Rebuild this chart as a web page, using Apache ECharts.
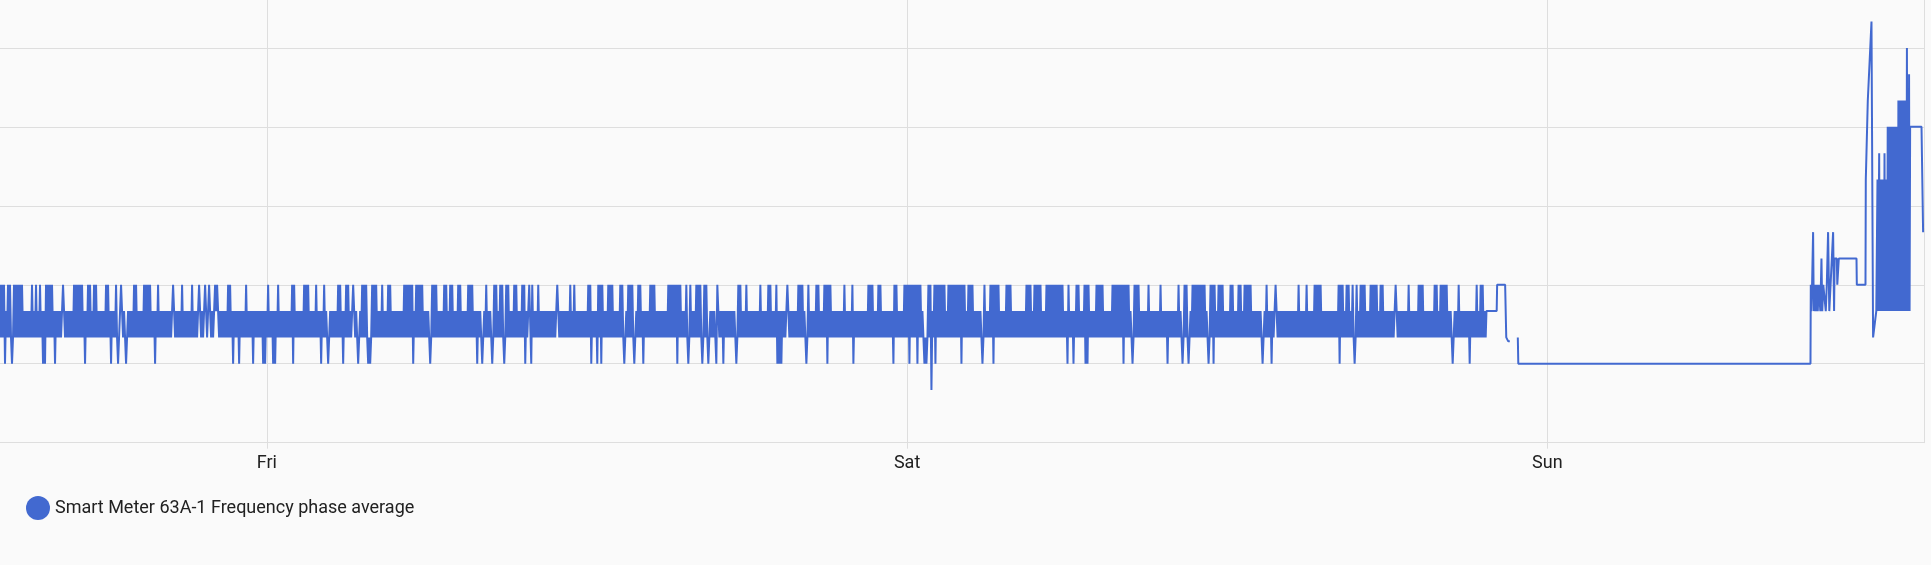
<!DOCTYPE html>
<html>
<head>
<meta charset="utf-8">
<script src="https://cdn.jsdelivr.net/npm/echarts@6/dist/echarts.min.js"></script>
<style>
  html, body { margin: 0; padding: 0; background: #fafafa; }
  #chart { width: 1931px; height: 565px; }
</style>
</head>
<body>
<div id="chart"></div>
<script>
// ---- data ----
const seriesName = 'Smart Meter 63A-1 Frequency phase average';
const dayNames = ['Sun', 'Mon', 'Tue', 'Wed', 'Thu', 'Fri', 'Sat'];
const startTime = new Date(2025, 0, 2, 14, 0, 0).getTime(); // Thu 14:00
const endMinute = 4327;                                      // ~Sun 14:07

// level codes used in the dense band (Hz)
const bandLevels = [49.98, 49.97, 49.96, 49.95, 49.94];
const bandStepMinutes = 2.25;
// one code per sample, Thu 14:00 -> Sat ~21:40
const bandCodes = [
  "0202031202","0232020202","0202121212","1202120212","0213130202","0202131212","1210121212","1212020202","0202131202","0212020212",
  "1212120202","1312120232","1012123212","1212020212","1212020202","0212131202","1212121212","1210121212","1202121212","1202121210",
  "1212101210","1212101012","1212121202","0213121213","1212120212","1213121212","1213131202","1213131202","1212121212","1203021212",
  "1212020202","1212120212","1312021232","1212121202","0213120202","1210121232","1202020232","3202020212","1202121202","0212121212",
  "1212020202","0203120202","0202121212","3202020212","1212020212","0202121202","0212121202","0202121312","1232120212","1232020212",
  "0202320202","1212020212","1202031210","0302121202","1212121212","1212121012","1212121212","0212021212","1212121202","0312121302",
  "0302121202","0202121212","0202321202","0202321202","0213121212","0202021212","1212121202","0202020302","0212120232","0212120202",
  "0232020232","1212123012","1213121212","1212123202","0212120212","1212121212","0212121202","0212120313","1312121012","1212121202",
  "0202123202","1212120202","1212020302","0212121212","1212021212","1203121212","1212121202","0202121202","0212121212","1213020212",
  "1212020203","0202020302","0212323202","0412030202","0202021202","0202020202","0302021202","0202121212","1232021212","0203020202",
  "1212120202","0212121212","1212120202","0212020202","0212120202","0202020202","0202121302","1213120202","1212030302","1212120202",
  "0202121212","1202020202","0203020202","1232020202","1212121202","1212121212","0212121312","1212121202","1232020232","1202020202",
  "0202021232","0203021202","0202121212","0202121202","0212020202","0212121212","1232120212","1312101212","1212121212","1212121202",
  "1212120212","1212020202","0212121212","1212121203","0202120202","1202320212","0202021212","0202020212","0202121212","1212101212",
  "1212121202","1212121202","0202121212","1212020212","0202020212","1232121202","1212121213","1212120212","020212"
];

// after the band: minutes from start and values (null = gap)
const tailMinutes = [3343, 3366, 3367, 3385, 3387.5, 3391, 3392, 3395.5, 3400, 3413.5, 3414.6,
  4071.7, 4072.4, 4073.5, 4075.3, 4077.6, 4079.1, 4081.4, 4083.6, 4085.9, 4088.1, 4090.4, 4093.8,
  4096.4, 4098.2, 4100.5, 4103.9, 4106.1, 4108.4, 4111.3, 4114.0, 4117.4, 4122.6, 4124.8, 4126.0,
  4130.9, 4132.0, 4134.3, 4135.4, 4175.2, 4175.9, 4195.4, 4196.1, 4200.6, 4208.9, 4212.5, 4216.3,
  4219.7, 4222.4, 4223.7];
const tailValues = [49.97, 49.97, 49.98, 49.98, 49.96, 49.96, 49.9585, 49.9585, null, 49.96, 49.95,
  49.95, 49.98, 49.97, 49.98, 50.00, 49.97, 49.98, 49.97, 49.98, 49.97, 49.98, 49.97,
  49.99, 49.97, 49.98, 49.98, 49.97, 49.98, 50.00, 49.97, 49.97, 50.00, 49.97, 49.99,
  49.99, 49.98, 49.98, 49.99, 49.99, 49.98, 49.98, 50.02, 50.05, 50.08, 49.96, 49.96,
  49.97, 50.02, 49.97];

// dense burst on Sunday afternoon
const burstStartMinute = 4225;
const burstStepMinutes = 1.2;
const burstValues = [
  49.97, 50.03, 49.97, 50.02, 49.97, 50.02, 49.97, 50.02, 49.97, 50.02,
  49.97, 50.03, 49.97, 50.02, 49.97, 50.02, 49.97, 50.04, 49.97, 50.04,
  49.97, 50.04, 49.97, 50.04, 49.97, 50.04, 49.97, 50.04, 49.97, 50.04,
  49.97, 50.04, 49.97, 50.04, 49.97, 50.04, 49.97, 50.05, 49.97, 50.05,
  49.97, 50.05, 49.97, 50.05, 49.97, 50.05, 49.97, 50.05, 49.97, 50.05,
  49.97, 50.05, 49.97, 50.07, 49.97, 50.05, 49.97, 50.06, 49.97, 50.04
];
const lastMinutes = [4321.4, 4325.0];
const lastValues = [50.04, 50.00];

// ---- build series data ----
const MIN = 60000;
const data = [];
bandCodes.join('').split('').forEach((c, i) => {
  data.push([startTime + i * bandStepMinutes * MIN, bandLevels[+c]]);
});
tailMinutes.forEach((m, i) => data.push([startTime + m * MIN, tailValues[i]]));
burstValues.forEach((v, i) => data.push([startTime + (burstStartMinute + i * burstStepMinutes) * MIN, v]));
lastMinutes.forEach((m, i) => data.push([startTime + m * MIN, lastValues[i]]));

const gridColor = '#dedede';
const textColor = '#212121';
const DAY = 86400000;

const chart = echarts.init(document.getElementById('chart'), null, { renderer: 'canvas' });
chart.setOption({
  backgroundColor: '#fafafa',
  animation: false,
  textStyle: { fontFamily: 'Roboto' },
  grid: { left: 0, right: 7, top: 0, bottom: 122.3, containLabel: false },
  legend: {
    left: 21, top: 491,
    icon: 'circle', itemWidth: 24, itemHeight: 24,
    textStyle: { fontSize: 18, color: textColor, fontFamily: 'Roboto' },
    data: [seriesName]
  },
  xAxis: {
    type: 'time',
    min: startTime,
    max: startTime + endMinute * MIN,
    minInterval: DAY,
    maxInterval: DAY,
    axisLine: { show: false },
    axisTick: { show: true, length: 6, lineStyle: { color: gridColor } },
    splitLine: { show: true, showMinLine: false, showMaxLine: false, lineStyle: { color: gridColor, width: 1 } },
    axisLabel: {
      fontSize: 18, color: textColor, margin: 12, fontFamily: 'Roboto',
      formatter: v => dayNames[new Date(v).getDay()]
    }
  },
  yAxis: [{
    type: 'value', min: 49.92, max: 50.0882, interval: 0.03,
    axisLabel: { show: false }, axisLine: { show: false }, axisTick: { show: false },
    splitLine: { show: true, showMaxLine: false, lineStyle: { color: gridColor, width: 1 } }
  }, {
    type: 'value', position: 'right', min: 0, max: 1,
    axisLabel: { show: false }, axisTick: { show: false }, splitLine: { show: false },
    axisLine: { show: true, lineStyle: { color: gridColor, width: 1 } }
  }],
  series: [{
    name: seriesName,
    type: 'line',
    data: data,
    showSymbol: false,
    symbol: 'circle',
    sampling: false,
    connectNulls: false,
    color: '#4269d0',
    lineStyle: { width: 2, color: '#4269d0' },
    clip: true
  }]
});
</script>
</body>
</html>
